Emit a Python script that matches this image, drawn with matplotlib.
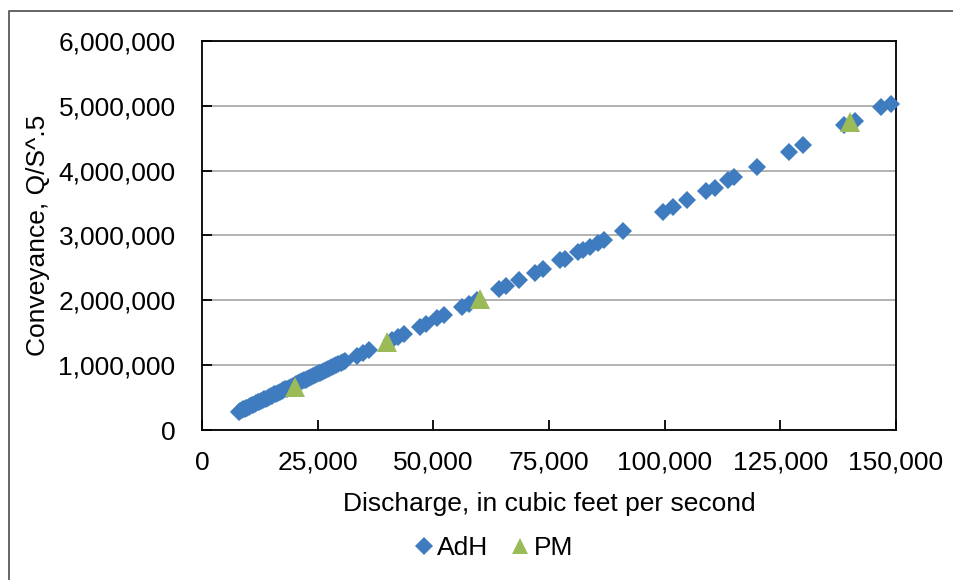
import matplotlib
matplotlib.use("Agg")
import matplotlib.pyplot as plt
from matplotlib.lines import Line2D
from matplotlib.ticker import FuncFormatter

plt.rcParams['font.family'] = ['Liberation Sans', 'DejaVu Sans']

# AdH model results: discharge (cfs) and conveyance
adh_q = [8000, 8300, 8600, 8900, 9200, 9500, 9800, 10100, 10400, 10700,
         11000, 11400, 11700, 12100, 12400, 12800, 13100, 13500, 13800, 14200,
         14500, 14900, 15200, 15600, 16000, 16400, 16800, 17200, 17600, 18000,
         18400, 18800, 19200, 19600, 20000, 20400, 20800, 21200, 21600, 22000,
         22400, 22800, 23200, 23600, 24000, 24400, 24800, 25200, 25600, 26000,
         26400, 26800, 27200, 27600, 28000, 28500, 29000, 29500, 30000, 30500,
         31000, 33500, 34800, 36200, 41000, 42300, 43600, 47200, 48400, 50800,
         52200, 56200, 57700, 59400, 64300, 65700, 68600, 72000, 73800, 77400,
         78500, 81200, 82400, 83900, 85600, 86900, 91000, 99600, 101900, 104900,
         108900, 110900, 113700, 115000, 119900, 126900, 129800, 138700, 141100,
         146700, 149000]
adh_k = [280000, 296000, 302000, 318000, 322000, 338000, 342000, 360000, 365000, 380000,
         385000, 405000, 410000, 430000, 435000, 452000, 458000, 478000, 482000, 500000,
         505000, 525000, 530000, 548000, 557000, 575000, 585000, 600000, 612000, 628000,
         640000, 655000, 667000, 682000, 695000, 710000, 722000, 738000, 750000, 765000,
         776000, 792000, 803000, 818000, 830000, 846000, 858000, 872000, 885000, 900000,
         912000, 928000, 940000, 955000, 967000, 985000, 1000000, 1018000, 1034000, 1050000,
         1068000, 1140000, 1185000, 1230000, 1390000, 1430000, 1480000, 1590000, 1635000, 1720000,
         1770000, 1900000, 1950000, 2010000, 2170000, 2215000, 2320000, 2425000, 2490000, 2618000,
         2645000, 2746000, 2783000, 2823000, 2885000, 2937000, 3070000, 3364000, 3441000, 3544000,
         3683000, 3740000, 3853000, 3895000, 4049000, 4286000, 4394000, 4703000, 4770000,
         4976000, 5027000]

# PM results
pm_q = [20000, 40000, 60000, 140000]
pm_k = [668000, 1356000, 2026000, 4754000]

x_ticks = [0, 25000, 50000, 75000, 100000, 125000, 150000]
y_ticks = [0, 1000000, 2000000, 3000000, 4000000, 5000000, 6000000]

fig = plt.figure(figsize=(9.54, 5.80), dpi=100)
ax = fig.add_axes([202/954, 1 - 430/580, (896 - 202)/954, (430 - 41)/580])

blue = '#3F7CBF'
green = '#9BBB59'
ax.plot(adh_q, adh_k, linestyle='none', marker='D', ms=8.7, mew=0,
        color=blue, label='AdH', zorder=3, clip_on=False)
ax.plot(pm_q, pm_k, linestyle='none', marker='^', ms=15, mew=0,
        color=green, label='PM', zorder=4, clip_on=False)

ax.set_xlim(0, 150000)
ax.set_ylim(0, 6000000)
ax.set_xticks(x_ticks)
ax.set_yticks(y_ticks)
fmt = FuncFormatter(lambda v, p: f"{int(round(v)):,}")
ax.xaxis.set_major_formatter(fmt)
ax.yaxis.set_major_formatter(fmt)
ax.grid(axis='y', color='#A6A6A6', lw=1.2, zorder=0)
ax.set_axisbelow(True)
for s in ax.spines.values():
    s.set_color('black')
    s.set_linewidth(1.3)
ax.tick_params(axis='both', direction='in', length=7, width=1.3, colors='black',
               labelsize=19)
ax.tick_params(axis='y', pad=19)
ax.tick_params(axis='x', pad=15)

ax.set_xlabel('Discharge, in cubic feet per second', fontsize=19, labelpad=12)
ax.set_ylabel('Conveyance, Q/S^.5', fontsize=19, labelpad=6)

leg = fig.legend(loc='center', bbox_to_anchor=(492/954, 1 - 548/580), ncol=2,
                 frameon=False, fontsize=19, handletextpad=0.0, columnspacing=0.7,
                 handlelength=1.0)
leg.legend_handles[1].set_markersize(12)

fig.add_artist(Line2D([9/954, 9/954, 1.0], [0.0, 1 - 11/580, 1 - 11/580],
                      transform=fig.transFigure, color='#595959', lw=1.3))

fig.savefig('out.png', dpi=100)
